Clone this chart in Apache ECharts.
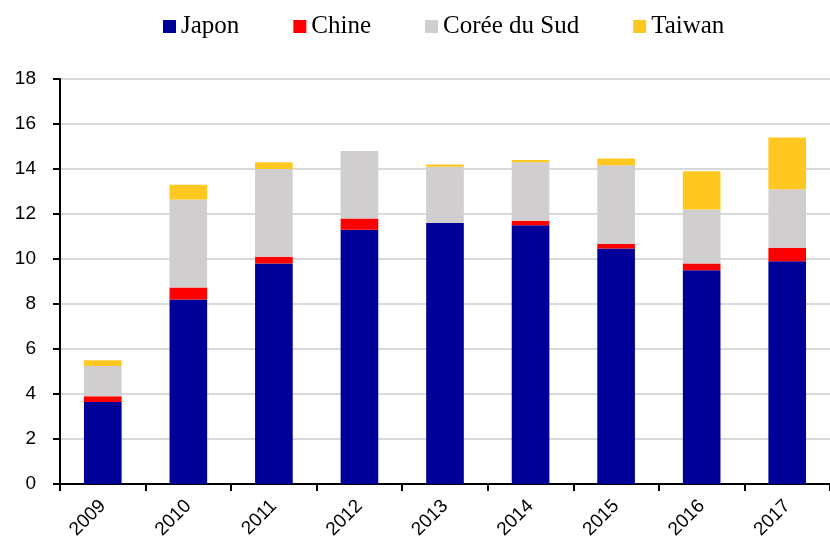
<!DOCTYPE html>
<html>
<head>
<meta charset="utf-8">
<script src="https://cdn.jsdelivr.net/npm/echarts@6/dist/echarts.min.js"></script>
<style>
	html, body { margin: 0; padding: 0; background: #fff; }
	#chart { width: 830px; height: 549px; }
</style>
</head>
<body>
<div id="chart"></div>
<script>
var years = ['2009', '2010', '2011', '2012', '2013', '2014', '2015', '2016', '2017'];
var japon = [3.65, 8.2, 9.8, 11.3, 11.6, 11.5, 10.47, 9.5, 9.9];
var chine = [0.25, 0.53, 0.3, 0.5, 0.0, 0.2, 0.2, 0.3, 0.6];
var coree = [1.35, 3.92, 3.9, 3.0, 2.5, 2.6, 3.5, 2.4, 2.6];
var taiwan = [0.25, 0.65, 0.3, 0.0, 0.1, 0.1, 0.3, 1.7, 2.3];
var yTicks = [0, 2, 4, 6, 8, 10, 12, 14, 16, 18];

var myChart = echarts.init(document.getElementById('chart'));

function barSerie(name, data, color) {
	return {
		name: name,
		type: 'bar',
		stack: 'total',
		data: data,
		barWidth: '44%',
		itemStyle: {color: color},
		emphasis: {disabled: true}
	};
}

var option = {
	animation: false,
	legend: {
		top: 9,
		left: 158,
		itemWidth: 13,
		itemHeight: 13,
		itemGap: 54,
		icon: 'rect',
		textStyle: {
			fontFamily: 'Liberation Serif',
			fontSize: 25,
			color: '#000'
		},
		data: ['Japon', 'Chine', 'Corée du Sud', 'Taiwan']
	},
	grid: {
		left: 60,
		right: -9,
		top: 79,
		bottom: 65,
		containLabel: false
	},
	xAxis: {
		type: 'category',
		data: years,
		axisLine: {lineStyle: {color: '#000', width: 2}},
		axisTick: {show: true, length: 7, lineStyle: {color: '#000', width: 2}},
		axisLabel: {
			rotate: 45,
			margin: 19,
			fontFamily: 'Liberation Sans',
			fontSize: 19,
			color: '#000'
		}
	},
	yAxis: {
		type: 'value',
		min: yTicks[0],
		max: yTicks[yTicks.length - 1],
		interval: 2,
		axisLine: {show: true, lineStyle: {color: '#000', width: 2}},
		axisTick: {show: true, length: 7, lineStyle: {color: '#000', width: 2}},
		splitLine: {lineStyle: {color: '#d9d9d9', width: 2}},
		axisLabel: {
			margin: 24,
			fontFamily: 'Liberation Sans',
			fontSize: 19,
			color: '#000'
		}
	},
	series: [
		barSerie('Japon', japon, '#000099'),
		barSerie('Chine', chine, '#ff0000'),
		barSerie('Corée du Sud', coree, '#d0cece'),
		barSerie('Taiwan', taiwan, '#ffc820')
	]
};

myChart.setOption(option);
</script>
</body>
</html>
